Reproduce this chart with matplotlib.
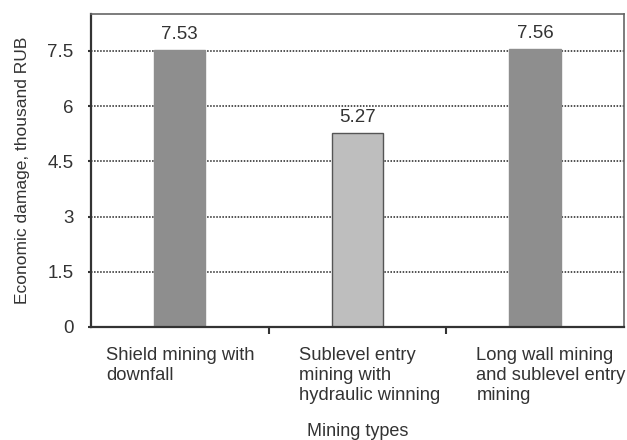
import numpy as np
import matplotlib.pyplot as plt

plt.rcParams['font.family'] = ['Liberation Sans', 'DejaVu Sans']

categories = ["Shield mining with\ndownfall",
              "Sublevel entry\nmining with\nhydraulic winning",
              "Long wall mining\nand sublevel entry\nmining"]
values = [7.53, 5.27, 7.56]
bar_colors = ["#8e8e8e", "#bebebe", "#8e8e8e"]
edge_colors = ["#8e8e8e", "#555555", "#8e8e8e"]
yticks = [0, 1.5, 3, 4.5, 6, 7.5]

fig = plt.figure(figsize=(6.27, 4.4), dpi=100)
ax = fig.add_axes([0.145, 0.257, 0.85, 0.711])

x = np.arange(len(values))
ax.bar(x, values, width=0.29, color=bar_colors, edgecolor=edge_colors,
       linewidth=1, zorder=2)

for xi, v in zip(x, values):
    ax.text(xi, v + 0.18, f"{v:.2f}", ha='center', va='bottom',
            fontsize=13.5, color='#333333')

ax.set_xlim(-0.5, 2.5)
ax.set_ylim(0, 8.5)
ax.set_yticks(yticks)
ax.set_yticklabels(["0", "1.5", "3", "4.5", "6", "7.5"], fontsize=13.5,
                   color='#333333')
for t in yticks[1:]:
    ax.axhline(t, color='#222222', linestyle=(0, (1, 1)), linewidth=1.1,
               zorder=1)

ax.set_xticks([0.5, 1.5])
ax.set_xticklabels([])
ax.tick_params(axis='x', length=5, width=1.5, color='#333333')
ax.tick_params(axis='y', length=2.5, width=1.5, color='#333333', pad=10)

label_offsets = [-0.415, -0.33, -0.33]
for xi, lab, off in zip(x, categories, label_offsets):
    ax.text(xi + off, -0.55, lab, ha='left', va='top', fontsize=13.2,
            color='#333333', linespacing=1.22)

for side in ['left', 'bottom']:
    ax.spines[side].set_linewidth(1.6)
    ax.spines[side].set_color('#333333')
for side in ['top', 'right']:
    ax.spines[side].set_linewidth(1.2)
    ax.spines[side].set_color('#666666')

ax.set_ylabel("Economic damage, thousand RUB", fontsize=12.5, color='#333333')
ax.yaxis.set_label_coords(-0.115, 0.5)
fig.text(0.571, 0.0, "Mining types", ha='center', va='bottom',
         fontsize=13, color='#333333')

fig.savefig("out.png", dpi=100)
